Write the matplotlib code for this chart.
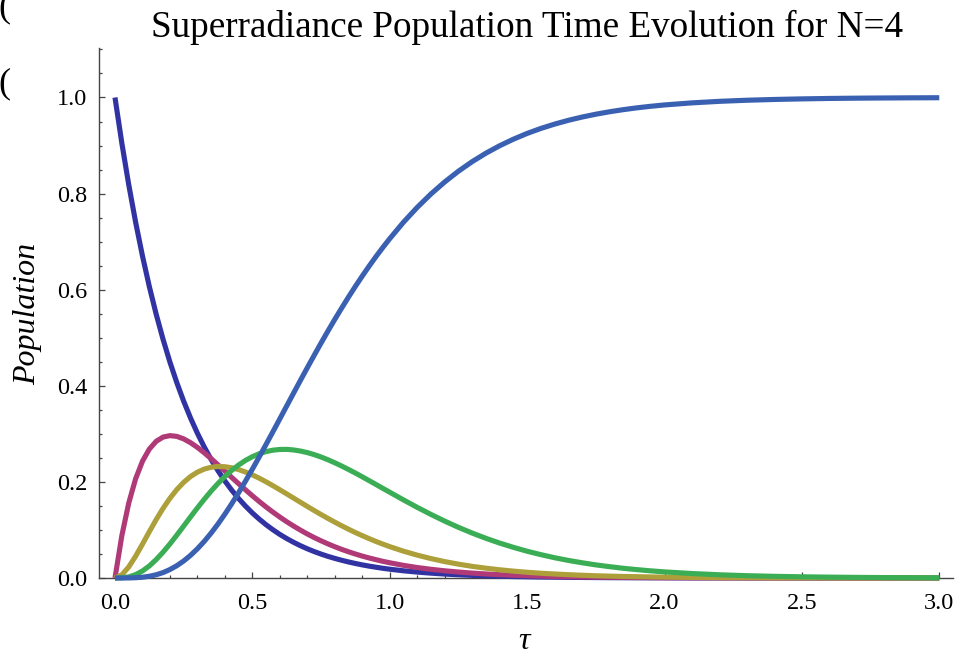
import matplotlib
matplotlib.use("Agg")
import matplotlib.pyplot as plt
from matplotlib.ticker import MultipleLocator, FormatStrFormatter

# ---------------- data ----------------
tau = [0.0, 0.025, 0.05, 0.075, 0.1, 0.125, 0.15, 0.175, 0.2, 0.225, 0.25, 0.275, 0.3,
       0.325, 0.35, 0.375, 0.4, 0.425, 0.45, 0.475, 0.5, 0.525, 0.55, 0.575, 0.6, 0.625,
       0.65, 0.675, 0.7, 0.725, 0.75, 0.775, 0.8, 0.825, 0.85, 0.875, 0.9, 0.925, 0.95,
       0.975, 1.0,
       1.05, 1.1, 1.15, 1.2, 1.25, 1.3, 1.35, 1.4, 1.45, 1.5, 1.55, 1.6, 1.65, 1.7, 1.75,
       1.8, 1.85, 1.9, 1.95, 2.0,
       2.1, 2.2, 2.3, 2.4, 2.5, 2.6, 2.7, 2.8, 2.9, 3.0]

pop_4 = [1.0, 0.9048, 0.8187, 0.7408, 0.6703, 0.6065, 0.5488, 0.4966, 0.4493, 0.4066,
         0.3679, 0.3329, 0.3012, 0.2725, 0.2466, 0.2231, 0.2019, 0.1827, 0.1653, 0.1496,
         0.1353, 0.1225, 0.1108, 0.1003, 0.0907, 0.0821, 0.0743, 0.0672, 0.0608, 0.0550,
         0.0498, 0.0450, 0.0408, 0.0369, 0.0334, 0.0302, 0.0273, 0.0247, 0.0224, 0.0202,
         0.0183,
         0.0150, 0.0123, 0.0101, 0.0082, 0.0067, 0.0055, 0.0045, 0.0037, 0.0030, 0.0025,
         0.0020, 0.0017, 0.0014, 0.0011, 0.0009, 0.0007, 0.0006, 0.0005, 0.0004, 0.0003,
         0.0002, 0.0002, 0.0001, 0.0001, 0.0, 0.0, 0.0, 0.0, 0.0, 0.0]

pop_3 = [0.0, 0.0883, 0.1558, 0.2064, 0.2430, 0.2683, 0.2845, 0.2933, 0.2963, 0.2947,
         0.2895, 0.2816, 0.2718, 0.2605, 0.2483, 0.2355, 0.2224, 0.2092, 0.1962, 0.1835,
         0.1711, 0.1592, 0.1478, 0.1370, 0.1268, 0.1171, 0.1081, 0.0996, 0.0916, 0.0842,
         0.0774, 0.0710, 0.0651, 0.0596, 0.0546, 0.0499, 0.0456, 0.0417, 0.0381, 0.0347,
         0.0317,
         0.0263, 0.0218, 0.0181, 0.0150, 0.0124, 0.0102, 0.0084, 0.0069, 0.0057, 0.0047,
         0.0039, 0.0032, 0.0026, 0.0022, 0.0018, 0.0015, 0.0012, 0.0010, 0.0008, 0.0007,
         0.0004, 0.0003, 0.0002, 0.0001, 0.0001, 0.0001, 0.0, 0.0, 0.0, 0.0]

pop_2 = [0.0, 0.0066, 0.0230, 0.0453, 0.0705, 0.0964, 0.1216, 0.1450, 0.1659, 0.1840,
         0.1991, 0.2112, 0.2203, 0.2267, 0.2305, 0.2321, 0.2316, 0.2294, 0.2256, 0.2206,
         0.2146, 0.2077, 0.2001, 0.1920, 0.1836, 0.1750, 0.1663, 0.1576, 0.1489, 0.1404,
         0.1321, 0.1240, 0.1162, 0.1087, 0.1015, 0.0946, 0.0881, 0.0819, 0.0760, 0.0705,
         0.0653,
         0.0558, 0.0476, 0.0404, 0.0341, 0.0288, 0.0242, 0.0204, 0.0171, 0.0143, 0.0119,
         0.0099, 0.0083, 0.0069, 0.0057, 0.0047, 0.0039, 0.0032, 0.0027, 0.0022, 0.0018,
         0.0012, 0.0008, 0.0006, 0.0004, 0.0003, 0.0002, 0.0001, 0.0001, 0.0001, 0.0]

pop_1 = [0.0, 0.0004, 0.0023, 0.0070, 0.0146, 0.0251, 0.0384, 0.0538, 0.0709, 0.0892,
         0.1081, 0.1272, 0.1459, 0.1639, 0.1810, 0.1968, 0.2112, 0.2241, 0.2352, 0.2447,
         0.2525, 0.2586, 0.2631, 0.2660, 0.2675, 0.2677, 0.2665, 0.2642, 0.2610, 0.2568,
         0.2518, 0.2461, 0.2398, 0.2330, 0.2258, 0.2184, 0.2106, 0.2026, 0.1946, 0.1865,
         0.1785,
         0.1625, 0.1470, 0.1323, 0.1184, 0.1054, 0.0935, 0.0826, 0.0727, 0.0638, 0.0557,
         0.0486, 0.0422, 0.0366, 0.0317, 0.0273, 0.0236, 0.0202, 0.0174, 0.0149, 0.0127,
         0.0093, 0.0067, 0.0048, 0.0035, 0.0025, 0.0018, 0.0013, 0.0009, 0.0006, 0.0004]

pop_0 = [0.0, 0.0, 0.0001, 0.0006, 0.0016, 0.0036, 0.0067, 0.0113, 0.0176, 0.0256,
         0.0354, 0.0472, 0.0608, 0.0763, 0.0936, 0.1125, 0.1329, 0.1547, 0.1776, 0.2017,
         0.2265, 0.2521, 0.2782, 0.3046, 0.3313, 0.3581, 0.3848, 0.4114, 0.4376, 0.4635,
         0.4890, 0.5139, 0.5382, 0.5618, 0.5848, 0.6070, 0.6284, 0.6491, 0.6690, 0.6880,
         0.7062,
         0.7404, 0.7713, 0.7992, 0.8242, 0.8466, 0.8665, 0.8841, 0.8996, 0.9132, 0.9252,
         0.9356, 0.9446, 0.9525, 0.9593, 0.9652, 0.9703, 0.9747, 0.9785, 0.9817, 0.9845,
         0.9888, 0.9920, 0.9943, 0.9959, 0.9971, 0.9980, 0.9986, 0.9990, 0.9993, 0.9995]

series = [pop_4, pop_3, pop_2, pop_1, pop_0]
colors = ["#3233a3", "#b03a78", "#ada03a", "#3aad55", "#3a60b2"]

title = "Superradiance Population Time Evolution for N=4"
xlabel = "τ"
ylabel = "Population"
xticks = [0.0, 0.5, 1.0, 1.5, 2.0, 2.5, 3.0]
yticks = [0.0, 0.2, 0.4, 0.6, 0.8, 1.0]

# ---------------- figure ----------------
plt.rcParams["font.family"] = ["Liberation Serif", "DejaVu Serif"]

W, H = 960, 658
fig = plt.figure(figsize=(W / 100, H / 100), dpi=100)
ax = fig.add_axes([98.5 / W, 1 - 578 / H, (953 - 98.5) / W, (578 - 48) / H])

for ys, c in zip(series, colors):
    ax.plot(tau, ys, color=c, lw=3.7, solid_capstyle="butt", clip_on=False, zorder=3)

ax.set_xlim(-0.06, 3.05)
ax.set_ylim(0.0, 1.103)

for s in ["top", "right"]:
    ax.spines[s].set_visible(False)
for s in ["left", "bottom"]:
    ax.spines[s].set_color("#444444")
    ax.spines[s].set_linewidth(1.0)
    ax.spines[s].set_zorder(2)

ax.set_xticks(xticks)
ax.set_yticks(yticks)
ax.xaxis.set_major_formatter(FormatStrFormatter("%.1f"))
ax.yaxis.set_major_formatter(FormatStrFormatter("%.1f"))
ax.xaxis.set_minor_locator(MultipleLocator(0.1))
ax.yaxis.set_minor_locator(MultipleLocator(0.05))
ax.tick_params(which="both", direction="in", color="#444444", width=0.9)
ax.tick_params(which="major", length=4.5)
ax.tick_params(which="minor", length=2.5)
ax.tick_params(axis="x", which="major", labelsize=17.5, pad=11)
ax.tick_params(axis="y", which="major", labelsize=17.5, pad=8)

fig.text(527.5 / W, 1 - 37 / H, title, ha="center", va="baseline", fontsize=26.7)
fig.text(28 / W, 1 - 314 / H, ylabel, ha="center", va="center", rotation=90,
         fontsize=23, style="italic")
fig.text(524 / W, 1 - 649 / H, xlabel, ha="center", va="baseline", fontsize=23,
         style="italic")

# cropped artefacts at the left edge of the reference
fig.text(-2 / W, 1 - 8 / H, "(", ha="left", va="center", fontsize=26)
fig.text(-2 / W, 1 - 84 / H, "(", ha="left", va="center", fontsize=26)

fig.savefig("out.png", dpi=100)
